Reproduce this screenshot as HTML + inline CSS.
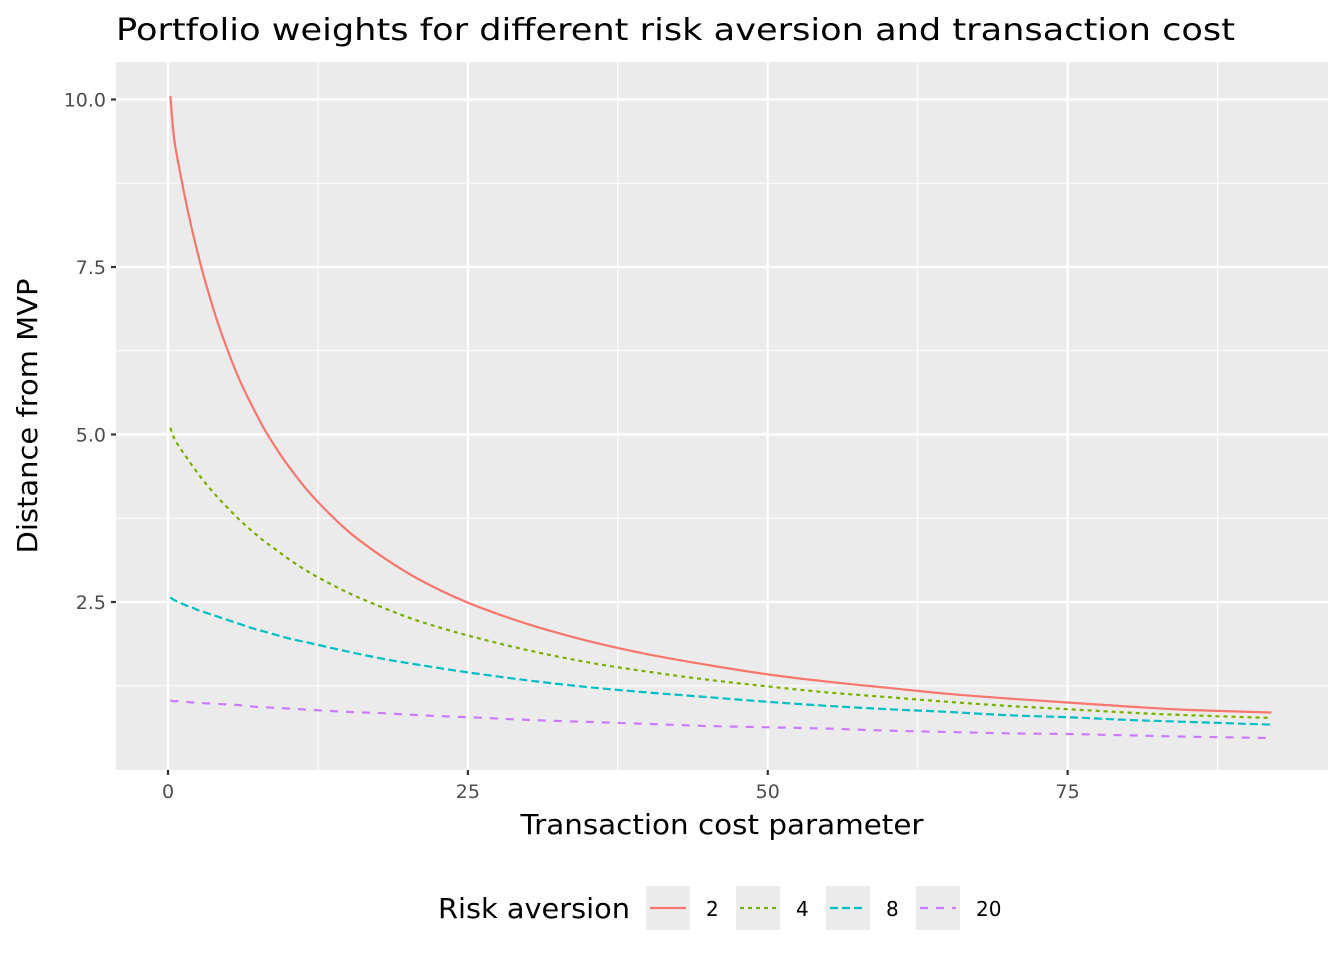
<!DOCTYPE html>
<html><head><meta charset="utf-8"><style>
html,body{margin:0;padding:0;background:#fff;}
svg text{font-family:"DejaVu Sans","Liberation Sans",sans-serif;}
</style></head><body>
<svg id="chart" width="1344" height="960" viewBox="0 0 1344 960" xmlns="http://www.w3.org/2000/svg">
<rect width="1344" height="960" fill="#fff"/>
<text x="116" y="40" font-size="30" fill="#000" textLength="1119" lengthAdjust="spacingAndGlyphs">Portfolio weights for different risk aversion and transaction cost</text>
<rect x="116" y="62" width="1212" height="708" fill="#EBEBEB"/>
<g id="grid"></g>
<g id="series"></g>
<g id="axes"></g>
<text x="722" y="834" font-size="28" text-anchor="middle" fill="#000" textLength="403" lengthAdjust="spacingAndGlyphs">Transaction cost parameter</text>
<text transform="translate(37,416) rotate(-90)" font-size="28" text-anchor="middle" fill="#000" textLength="275" lengthAdjust="spacingAndGlyphs">Distance from MVP</text>
<g id="legend">
<text x="438" y="918" font-size="28" fill="#000" textLength="192" lengthAdjust="spacingAndGlyphs">Risk aversion</text>
</g>
</svg>
<script>
const xs = [0.2,0.5,1,1.5,2,2.5,3,4,5,6,7,8,9,10,12,15,18,21,25,30,35,40,45,50,55,60,65,70,75,80,85,92];
const series2 = [10.05,9.43,8.92,8.47,8.06,7.69,7.35,6.75,6.24,5.80,5.43,5.09,4.80,4.54,4.09,3.56,3.16,2.83,2.49,2.17,1.92,1.72,1.56,1.42,1.31,1.22,1.13,1.06,1.00,0.94,0.89,0.85];
const series4 = [5.10,4.95,4.80,4.67,4.54,4.42,4.30,4.09,3.90,3.72,3.56,3.41,3.28,3.15,2.92,2.64,2.41,2.21,2.00,1.78,1.60,1.46,1.34,1.24,1.15,1.08,1.01,0.95,0.90,0.85,0.81,0.77];
const series8 = [2.57,2.53,2.49,2.45,2.42,2.38,2.35,2.29,2.23,2.17,2.11,2.06,2.01,1.96,1.88,1.76,1.65,1.56,1.45,1.33,1.23,1.15,1.08,1.01,0.95,0.90,0.86,0.81,0.78,0.74,0.71,0.67];
const series20 = [1.03,1.02,1.02,1.01,1.00,1.00,0.99,0.98,0.97,0.96,0.94,0.93,0.92,0.91,0.89,0.86,0.84,0.81,0.78,0.74,0.71,0.68,0.65,0.63,0.61,0.58,0.56,0.54,0.53,0.51,0.49,0.47];
const seriesNames = ["2","4","8","20"];
const xTicks = [0,25,50,75];
const yTicks = [2.5,5.0,7.5,10.0];
const yTickLabels = ["2.5","5.0","7.5","10.0"];

const NS="http://www.w3.org/2000/svg";
const sx = v => 168 + v*11.995;
const sy = v => 769.5 - v*67.0;
function mk(tag, attrs, parent){const e=document.createElementNS(NS,tag);for(const k in attrs)e.setAttribute(k,attrs[k]);parent.appendChild(e);return e;}
const grid=document.getElementById('grid'), axes=document.getElementById('axes'), ser=document.getElementById('series'), leg=document.getElementById('legend');

[12.5,37.5,62.5,87.5].forEach(v=>{const l=mk('line',{x1:sx(v),x2:sx(v),y1:62,y2:770,stroke:'#fff','stroke-width':1.1},grid);

});
[1.25,3.75,6.25,8.75].forEach(v=>{const l=mk('line',{x1:116,x2:1328,y1:sy(v),y2:sy(v),stroke:'#fff','stroke-width':1.1},grid);

});
xTicks.forEach(v=>{const l=mk('line',{x1:sx(v),x2:sx(v),y1:62,y2:770,stroke:'#fff','stroke-width':2.2},grid);


const t=mk('line',{x1:sx(v),x2:sx(v),y1:770,y2:775,stroke:'#333','stroke-width':2.2},axes);


const tx=mk('text',{x:sx(v),y:798,'font-size':19,'text-anchor':'middle',fill:'#4D4D4D'},axes);tx.textContent=String(v);

});
yTicks.forEach((v,i)=>{const l=mk('line',{x1:116,x2:1328,y1:sy(v),y2:sy(v),stroke:'#fff','stroke-width':2.2},grid);


const t=mk('line',{x1:111,x2:116,y1:sy(v),y2:sy(v),stroke:'#333','stroke-width':2.2},axes);


const tx=mk('text',{x:106,y:sy(v)+7,'font-size':19,'text-anchor':'end',fill:'#4D4D4D'},axes);tx.textContent=yTickLabels[i];

});

function smoothPath(px,py){
  let d='M'+px[0].toFixed(1)+','+py[0].toFixed(1);
  for(let i=0;i<px.length-1;i++){
    const i0=Math.max(0,i-1), i3=Math.min(px.length-1,i+2);
    const c1x=px[i]+(px[i+1]-px[i0])/6, c1y=py[i]+(py[i+1]-py[i0])/6;
    const c2x=px[i+1]-(px[i3]-px[i])/6, c2y=py[i+1]-(py[i3]-py[i])/6;
    d+=' C'+c1x.toFixed(1)+','+c1y.toFixed(1)+' '+c2x.toFixed(1)+','+c2y.toFixed(1)+' '+px[i+1].toFixed(1)+','+py[i+1].toFixed(1);
  }
  return d;
}
const all=[series2,series4,series8,series20];
const colors=['#F8766D','#7CAE00','#00BFC4','#C77CFF'];
const dashes=['none','4,4','8,4','8,8'];
all.forEach((s,k)=>{
  const d=smoothPath(xs.map(sx), s.map(sy));
  const p=mk('path',{d:d,fill:'none',stroke:colors[k],'stroke-width':2.2,'stroke-dasharray':dashes[k],'stroke-linejoin':'round'},ser);
  
  
  const bx=646+k*90;
  const r=mk('rect',{x:bx,y:886,width:44,height:44,fill:'#EBEBEB'},leg);
  
  
  const l=mk('line',{x1:bx+4,x2:bx+40,y1:908,y2:908,stroke:colors[k],'stroke-width':2.2,'stroke-dasharray':dashes[k]},leg);
  
  
  const t=mk('text',{x:bx+60,y:916,'font-size':20,fill:'#000'},leg);t.textContent=seriesNames[k];
  
  
});
</script>
</body></html>
